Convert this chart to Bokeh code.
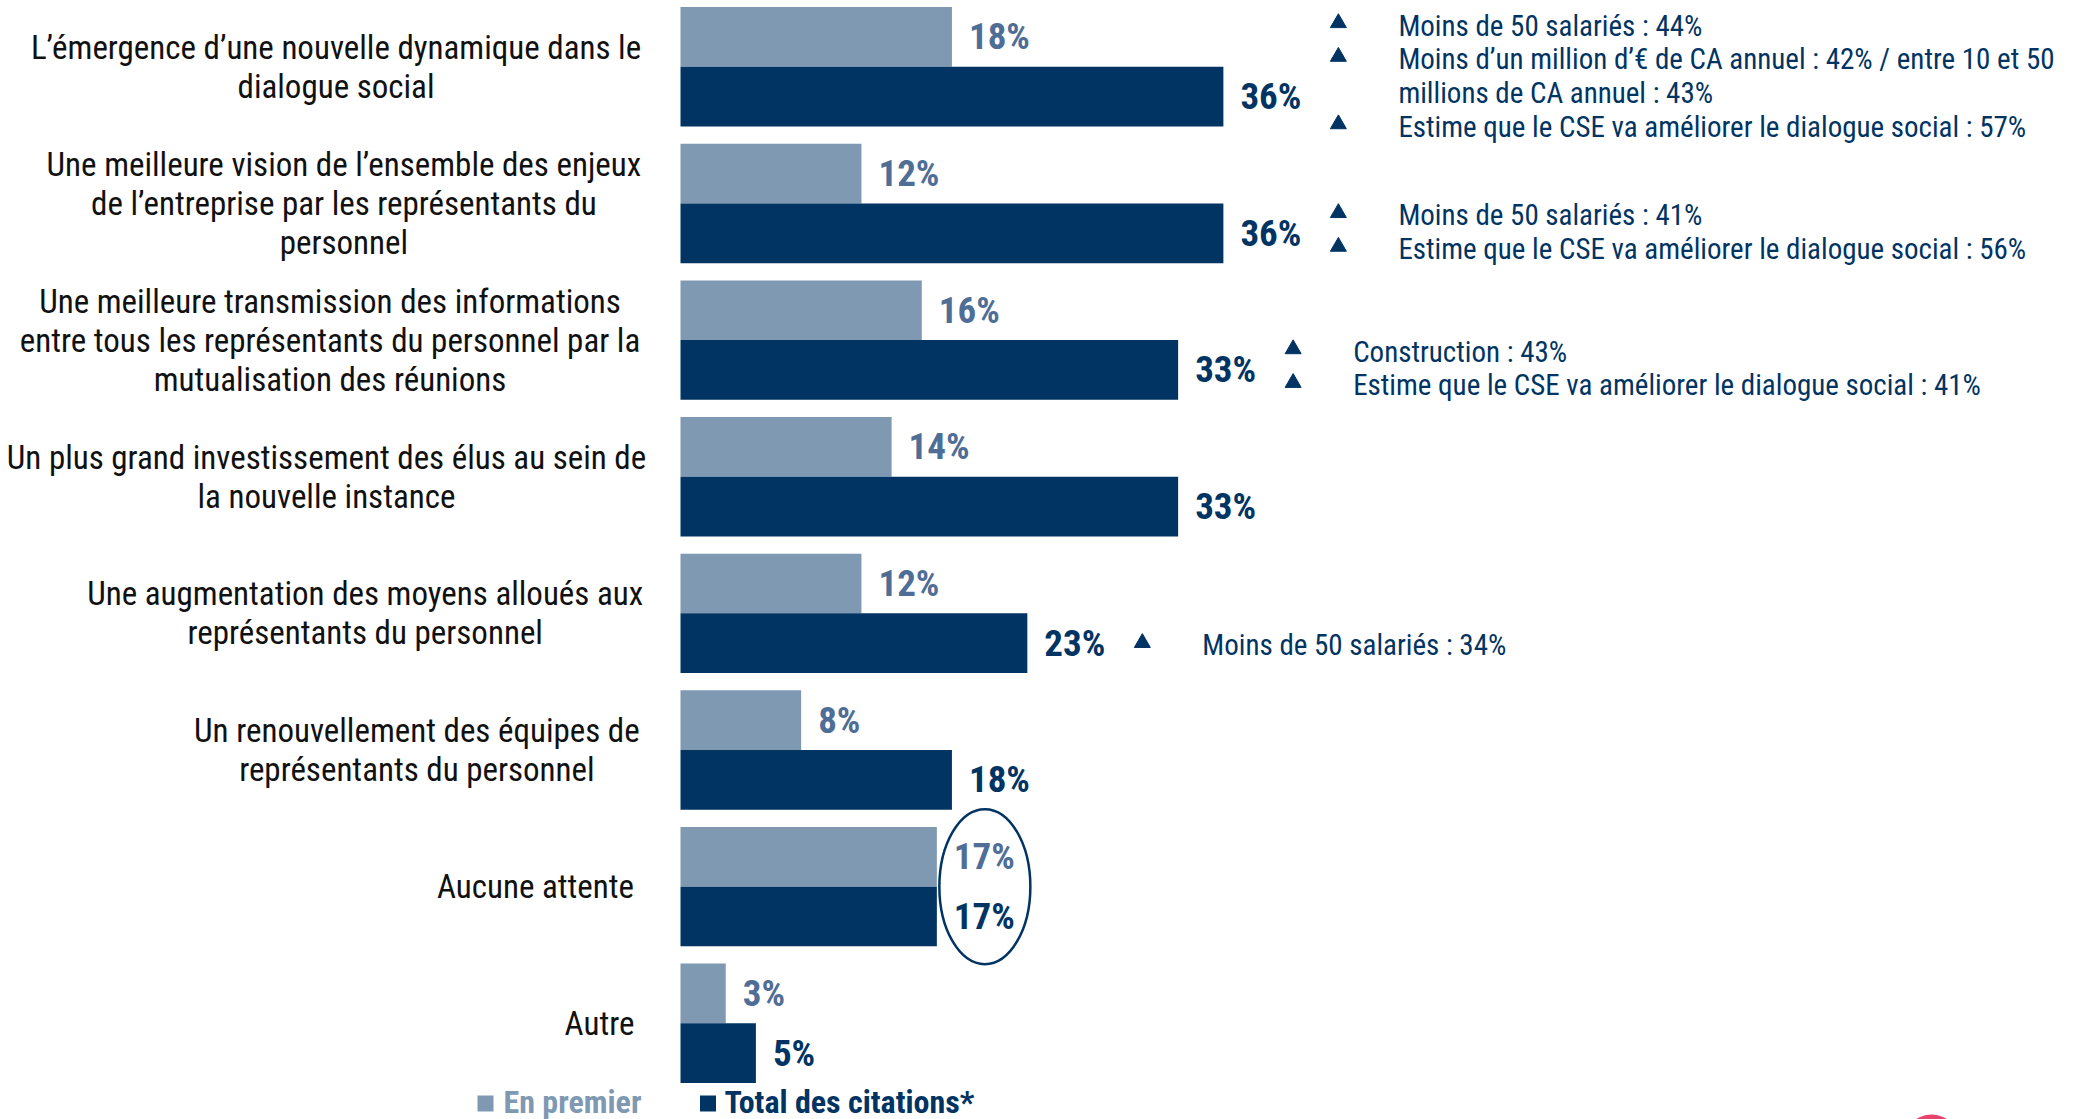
from bokeh.plotting import figure
from bokeh.models import Range1d, ColumnDataSource
from bokeh.embed import file_html
from bokeh.resources import INLINE
from bokeh.core.properties import value

# ---------------- data ----------------
categories = [
    "L’émergence d’une nouvelle dynamique dans le\ndialogue social",
    "Une meilleure vision de l’ensemble des enjeux\nde l’entreprise par les représentants du\npersonnel",
    "Une meilleure transmission des informations\nentre tous les représentants du personnel par la\nmutualisation des réunions",
    "Un plus grand investissement des élus au sein de\nla nouvelle instance",
    "Une augmentation des moyens alloués aux\nreprésentants du personnel",
    "Un renouvellement des équipes de\nreprésentants du personnel",
    "Aucune attente",
    "Autre",
]
en_premier = [18, 12, 16, 14, 12, 8, 17, 3]
total_citations = [36, 36, 33, 33, 23, 18, 17, 5]
series_names = ["En premier", "Total des citations*"]

ann_category = [0, 0, 0, 0, 1, 1, 2, 2, 4]
ann_line = [0, 1, 2, 3, 0, 1, 0, 1, 0]
ann_triangle = [True, True, False, True, True, True, True, True, True]
ann_text = [
    "Moins de 50 salariés : 44%",
    "Moins d’un million d’€ de CA annuel : 42% / entre 10 et 50",
    "millions de CA annuel : 43%",
    "Estime que le CSE va améliorer le dialogue social : 57%",
    "Moins de 50 salariés : 41%",
    "Estime que le CSE va améliorer le dialogue social : 56%",
    "Construction : 43%",
    "Estime que le CSE va améliorer le dialogue social : 41%",
    "Moins de 50 salariés : 34%",
]
circled_category = 6

# ---------------- layout / style ----------------
W, H = 2079, 1119
X0 = 680.0          # screen px of value 0
PXP = 15.08         # px per percent
GC0 = 66.3          # screen px of first group centre
PITCH = 136.64      # px between groups
BAR_PX = 59.7

LIGHT = "#7f99b2"
LIGHT_TXT = "#4f6e96"
DARK = "#013463"
FONT = value("Roboto Condensed")

label_cx = [335.5, 343.4, 329.5, 326.0, 364.7, 416.4, 535.0, 599.0]
ann_first_px = {0: -41.3, 1: 12.0, 2: 11.5, 4: 32.0}
ANN_STEP = 33.7


def xd(px):  # screen px -> data x
    return (px - X0) / PXP


def yd(px):  # screen px -> data y
    return (GC0 - px) / PITCH


n = len(categories)
gy = [-i for i in range(n)]
half = (BAR_PX / 2) / PITCH

p = figure(width=W, height=H, x_range=Range1d(xd(0), xd(W)), y_range=Range1d(yd(H), yd(0)),
           output_backend="svg", toolbar_location=None, x_axis_type=None, y_axis_type=None,
           min_border=0, min_border_left=0, min_border_right=0, min_border_top=0, min_border_bottom=0)
p.grid.visible = False
p.outline_line_color = None
p.background_fill_color = "white"

src = ColumnDataSource(dict(
    y_light=[g + half for g in gy],
    y_dark=[g - half for g in gy],
    en_premier=en_premier,
    total=total_citations,
    lab_light=[f"{v}%" for v in en_premier],
    lab_dark=[f"{v}%" for v in total_citations],
))

bh = BAR_PX / PITCH
p.hbar(y="y_light", left=0, right="en_premier", height=bh, source=src,
       fill_color=LIGHT, line_color=None)
p.hbar(y="y_dark", left=0, right="total", height=bh, source=src,
       fill_color=DARK, line_color=None)

p.text(x="en_premier", y="y_light", text="lab_light", source=src, x_offset=17,
       text_baseline="middle", text_font=FONT, text_font_style="bold",
       text_font_size="37px", text_color=LIGHT_TXT)
p.text(x="total", y="y_dark", text="lab_dark", source=src, x_offset=17,
       text_baseline="middle", text_font=FONT, text_font_style="bold",
       text_font_size="37px", text_color=DARK)

# category labels
p.text(x=[xd(c) for c in label_cx], y=gy, text=categories, text_align="center",
       text_baseline="middle", text_font=FONT, text_font_size="33px",
       text_line_height=1.0, text_color="#111111")

# annotations
tx, ty, trx, try_ = [], [], [], []
for c, ln, tri in zip(ann_category, ann_line, ann_triangle):
    base_px = GC0 + c * PITCH + ann_first_px[c] + ln * ANN_STEP
    tx.append(total_citations[c] + 175 / PXP)
    ty.append(yd(base_px))
    if tri:
        trx.append(total_citations[c] + 115 / PXP)
        try_.append(yd(base_px - 2.5))
p.scatter(x=trx, y=try_, marker="triangle", size=16, fill_color=DARK, line_color=DARK)
p.text(x=tx, y=ty, text=ann_text, text_baseline="middle", text_font=FONT,
       text_font_size="29px", text_color=DARK)

# circle around equal values
p.ellipse(x=[total_citations[circled_category] + 48 / PXP], y=[gy[circled_category]],
          width=91, height=155, width_units="screen", height_units="screen",
          fill_color=None, line_color=DARK, line_width=2.5)

# legend
p.scatter(x=[xd(485), xd(707.5)], y=[yd(1103), yd(1103)], marker="square", size=16,
          fill_color=[LIGHT, DARK], line_color=None)
p.text(x=[xd(503), xd(724)], y=[yd(1101), yd(1101)], text=series_names,
       text_baseline="middle", text_font=FONT, text_font_style="bold",
       text_font_size="32px", text_color=[LIGHT, DARK])

# decorative logo edge (bottom right)
p.circle(x=[xd(1931)], y=[yd(1142)], radius=28, radius_units="screen",
         fill_color="#e8436e", line_color=None)

open("out.html", "w").write(file_html(p, INLINE))
